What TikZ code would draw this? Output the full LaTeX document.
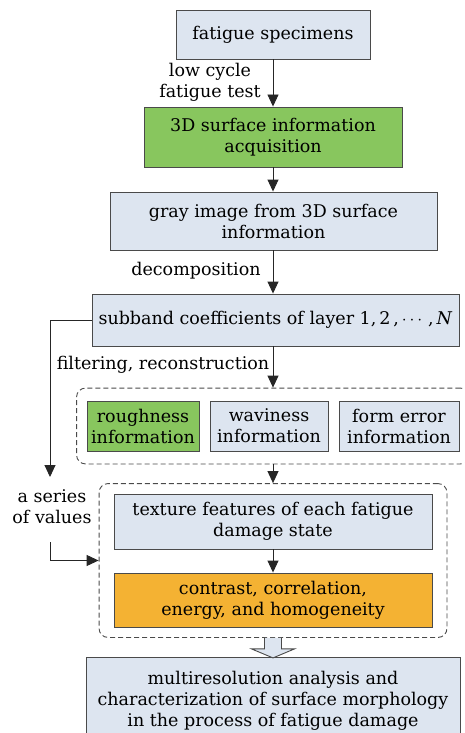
\documentclass[tikz,border=0pt]{standalone}
\usepackage{fix-cm}
\usepackage{amsmath}
\usepackage{amssymb}
\usepackage{fontspec}
\setmainfont{DejaVu Serif}
\usepackage{tikz}
\usepackage{xcolor}
\usetikzlibrary{calc,fit,arrows.meta}

\definecolor{boxblue}{HTML}{DDE5F0}
\definecolor{boxgreen}{HTML}{88C65E}
\definecolor{boxorange}{HTML}{F4B233}
\definecolor{edgegray}{HTML}{4A4A4A}

\begin{document}
\begin{tikzpicture}[x=1pt,y=-1pt,
    font=\fontsize{17.5}{21}\selectfont,
    stepbox/.style={rectangle, draw=edgegray, fill=boxblue, line width=0.9pt, align=center, inner sep=0pt},
    greenbox/.style={stepbox, fill=boxgreen},
    orangebox/.style={stepbox, fill=boxorange},
    groupbox/.style={rectangle, rounded corners=9pt, draw=edgegray, dashed, dash pattern=on 5pt off 3pt, line width=0.9pt},
    flow/.style={-{Triangle[length=12pt,width=11pt]}, draw=black!85, line width=0.9pt},
    lbl/.style={align=center, inner sep=0pt}]
    \useasboundingbox (0,0) rectangle (464,733);
    \begin{scope}
        \clip (0,0) rectangle (464,733);
        \node[stepbox, minimum width=194pt, minimum height=49pt] (spec) at (273,34.5) {fatigue specimens};
        \node[greenbox, minimum width=258pt, minimum height=60pt] (acq) at (273,137) {3D surface information\\acquisition};
        \node[stepbox, minimum width=327pt, minimum height=58pt] (gray) at (273.5,221) {gray image from 3D surface\\information};
        \node[stepbox, minimum width=367pt, minimum height=52pt] (sub) at (275.5,320) {subband coefficients of layer 1,\,2\,,\,$\cdots$\,,\,\textit{N}};

        \node[greenbox, minimum width=112pt, minimum height=50pt] (rough) at (143,426) {roughness\\information};
        \node[stepbox, minimum width=118pt, minimum height=50pt] (wavy) at (269,426) {waviness\\information};
        \node[stepbox, minimum width=120pt, minimum height=50pt] (form) at (399,426) {form error\\information};
        \node[groupbox, fit=(rough)(wavy)(form), inner xsep=10pt, inner ysep=12.5pt] (grp1) {};

        \node[stepbox, minimum width=318pt, minimum height=55pt] (tex) at (273,521.5) {texture features of each fatigue\\damage state};
        \node[orangebox, minimum width=318pt, minimum height=54pt] (feat) at (273,600) {contrast, correlation,\\energy, and homogeneity};
        \node[groupbox, fit=(tex)(feat), inner xsep=14.5pt, inner ysep=10pt] (grp2) {};

        \node[stepbox, minimum width=374pt, minimum height=88pt] (result) at (273,701) {multiresolution analysis and\\characterization of surface morphology\\in the process of fatigue damage};

        \node[lbl] (test) at (210,82) {low cycle\\fatigue test};
        \node[lbl] (decomp) at (196,271) {decomposition};
        \node[lbl] (filt) at (163,365) {filtering, reconstruction};
        \node[lbl] (series) at (52,507) {a series\\of values};

        \coordinate (seriesin) at (50,477);
        \coordinate (seriesout) at (50,542);

        \draw[flow] (spec) -- (acq);
        \draw[flow] (acq) -- (acq |- gray.north);
        \draw[flow] (gray.south -| spec) -- (sub.north -| spec);
        \draw[flow] (sub.south -| spec) -- (grp1.north -| spec);
        \draw[flow] (grp1.south -| tex) -- (grp2.north -| tex);
        \draw[flow] (tex) -- (feat);
        \draw[flow] (sub.west) -| (seriesin);
        \draw[flow] (seriesout) |- (grp2.west);

        % hollow arrow to the result
        \draw[draw=edgegray, fill=boxblue, line width=0.9pt]
            ($(grp2.south)+(-8.5,0)$) -- ++(0,11) -- ++(-13,0) -- ($(grp2.south)+(0,20)$)
            -- ($(grp2.south)+(21.5,11)$) -- ++(-13,0) -- ($(grp2.south)+(8.5,0)$);
    \end{scope}
\end{tikzpicture}
\end{document}
